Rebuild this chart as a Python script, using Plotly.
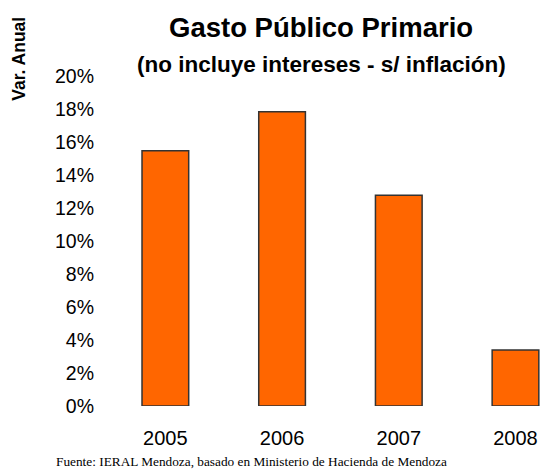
import plotly.graph_objects as go

years = ["2005", "2006", "2007", "2008"]
var_anual = [15.47, 17.84, 12.77, 3.39]
y_ticks = [0, 2, 4, 6, 8, 10, 12, 14, 16, 18, 20]
y_tick_labels = [f"{v}%" for v in y_ticks]

SANS = "Liberation Sans, Arial, sans-serif"
SERIF = "Liberation Serif, Times New Roman, serif"

fig = go.Figure(
    go.Bar(
        x=years,
        y=var_anual,
        width=0.4,
        marker=dict(color="#FF6600", line=dict(color="#333333", width=1.5)),
        hoverinfo="skip",
    )
)

L, R, T, B = 106.5, 0, 76, 64
W, H = 540, 470
pw = W - L - R
ph = H - T - B


def px(xp):
    return (xp - L) / pw


def py(yp):
    return (H - B - yp) / ph


fig.update_layout(
    width=W,
    height=H,
    margin=dict(l=L, r=R, t=T, b=B, pad=0),
    paper_bgcolor="white",
    plot_bgcolor="white",
    showlegend=False,
    font=dict(family=SANS, color="black"),
    xaxis=dict(
        type="category",
        range=[-0.5, 3.21],
        showline=False,
        showgrid=False,
        zeroline=False,
        ticks="",
        tickfont=dict(family=SANS, size=20, color="black"),
        ticklabelstandoff=18,
    ),
    yaxis=dict(
        range=[0, 20],
        tickvals=y_ticks,
        ticktext=y_tick_labels,
        showline=False,
        showgrid=False,
        zeroline=False,
        ticks="",
        tickfont=dict(family=SANS, size=19.5, color="black"),
        ticklabelstandoff=12,
    ),
    annotations=[
        dict(
            text="<b>Gasto Público Primario</b>",
            xref="paper", yref="paper",
            x=px(321), y=py(27),
            xanchor="center", yanchor="middle",
            showarrow=False,
            font=dict(family=SANS, size=27.5, color="black"),
        ),
        dict(
            text="<b>(no incluye intereses - s/ inflación)</b>",
            xref="paper", yref="paper",
            x=px(321.5), y=py(65),
            xanchor="center", yanchor="middle",
            showarrow=False,
            font=dict(family=SANS, size=22.5, color="black"),
        ),
        dict(
            text="<b>Var. Anual</b>",
            xref="paper", yref="paper",
            x=px(17.7), y=py(58.5),
            xanchor="center", yanchor="middle",
            textangle=-90,
            showarrow=False,
            font=dict(family=SANS, size=17.5, color="black"),
        ),
        dict(
            text="Fuente: IERAL Mendoza, basado en Ministerio de Hacienda de Mendoza",
            xref="paper", yref="paper",
            x=px(251.3), y=py(461.5),
            xanchor="center", yanchor="middle",
            showarrow=False,
            font=dict(family=SERIF, size=13.3, color="black"),
        ),
    ],
)

fig.write_html(
    "out.html",
    config={"displayModeBar": False},
    post_script="document.body.style.margin='0';document.body.style.overflow='hidden';",
)
